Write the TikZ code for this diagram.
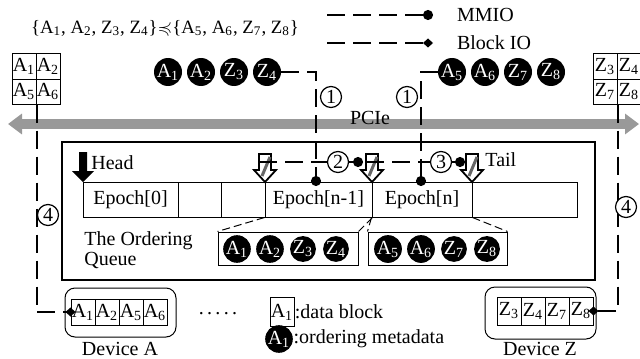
\documentclass[tikz,border=0pt]{standalone}
\usepackage{amssymb}
\usepackage{fontspec}
\setmainfont{Liberation Serif}
\usetikzlibrary{arrows.meta}

\newcommand{\sbx}[2]{#1\textsubscript{#2}}

\tikzset{
  dline/.style={line width=1pt, dash pattern=on 9pt off 4pt},
  mmio/.style={dline, -{Circle[length=5pt]}},
  blockio/.style={dline, -{Diamond[length=5pt,width=4.5pt]}},
  meta/.style={circle, fill=black, text=white, inner sep=0pt, minimum size=14pt},
  qmeta/.style={meta, minimum size=12.5pt},
  blk/.style={draw, line width=0.5pt, inner sep=0pt, minimum width=12pt, minimum height=12.5pt},
  num/.style={draw, circle, fill=white, inner sep=0pt, minimum size=10.5pt, line width=0.6pt},
  epoch/.style={draw, line width=0.5pt, minimum height=17.5pt, inner sep=0pt},
  qbox/.style={draw, line width=0.5pt, minimum height=16.5pt, inner sep=0pt},
  device/.style={draw, rounded corners=5pt, line width=0.5pt, minimum width=55.5pt, inner sep=0pt},
  zoomline/.style={line width=0.5pt, dash pattern=on 4pt off 2pt},
  pcie/.style={line width=5pt, black!40, {Triangle[width=10pt,length=7pt]}-{Triangle[width=10pt,length=7pt]}},
  ptr/.pic={
    \draw[fill=white, line width=0.9pt] (-6,-28) -- (6,-28) -- (6,-12) -- (11,-12) -- (0,0) -- (-11,-12) -- (-6,-12) -- cycle;
    \draw[line width=1.5pt, black!60] (5,-25) -- (-3,-6);
  },
  headptr/.pic={
    \fill (-4,-30) -- (4,-30) -- (4,-11) -- (11,-11) -- (0,0) -- (-11,-11) -- (-4,-11) -- cycle;
  },
}

\begin{document}
\begin{tikzpicture}[x=0.5pt,y=-0.5pt]
    \useasboundingbox (0,0) rectangle (640,358);

    % LEGEND AND ORDER
    \node[font=\fontsize{9.4}{11}\selectfont] (order) at (165,28) {\{\sbx{A}{1}, \sbx{A}{2}, \sbx{Z}{3}, \sbx{Z}{4}\}$\mathord{\preccurlyeq}$\{\sbx{A}{5}, \sbx{A}{6}, \sbx{Z}{7}, \sbx{Z}{8}\}};
    \coordinate (lm1) at (327,15);
    \coordinate (lm2) at (433,15);
    \coordinate (lb1) at (327,43);
    \coordinate (lb2) at (433,43);
    \draw[mmio] (lm1) -- (lm2);
    \draw[blockio] (lb1) -- (lb2);
    \node[anchor=west] (mmiotxt) at (450,15) {MMIO};
    \node[anchor=west] (biotxt) at (450,43) {Block IO};

    % PCIE BUS
    \draw[pcie] (8,124) -- (639,124);
    \node (pcietxt) at (370,118) {PCIe};

    % HOST SIDE BUFFERS
    \node[blk] (gA1) at (24,66.5) {\sbx{A}{1}};
    \node[blk] (gA2) at (48,66.5) {\sbx{A}{2}};
    \node[blk] (gA5) at (24,91.5) {\sbx{A}{5}};
    \node[blk] (gA6) at (48,91.5) {\sbx{A}{6}};
    \node[blk] (gZ3) at (605,66.5) {\sbx{Z}{3}};
    \node[blk] (gZ4) at (629,66.5) {\sbx{Z}{4}};
    \node[blk] (gZ7) at (605,91.5) {\sbx{Z}{7}};
    \node[blk] (gZ8) at (629,91.5) {\sbx{Z}{8}};

    \foreach \t/\s/\x in {A/1/168, A/2/201, Z/3/234, Z/4/267, A/5/452, A/6/485, Z/7/518, Z/8/551}
        \node[meta] (top\t\s) at (\x,72) {\sbx{\t}{\s}};

    % THE ORDERING QUEUE
    \node[draw, line width=1pt, minimum width=266.5pt, minimum height=69pt] (queue) at (328.5,211) {};
    \foreach \a/\b/\t [count=\i] in {83/178/{Epoch[0]}, 178/221/{}, 221/265/{}, 265/372/{Epoch[n-1]}, 372/472/{Epoch[n]}, 472/577/{}}
        \node[epoch, minimum width={(\b-\a)*0.5pt}] (e\i) at ({(\a+\b)/2},199.5) {\t};

    \pic at (83,182) {headptr};
    \node[anchor=west, inner sep=0pt] (headtxt) at (91,163) {Head};
    \pic at (265,182) {ptr};
    \pic at (372,182) {ptr};
    \pic at (472,182) {ptr};
    \node[anchor=west, inner sep=0pt] (tailtxt) at (485,160) {Tail};

    \coordinate (m1) at (259,162);
    \coordinate (m2) at (363,162);
    \coordinate (m3) at (366,162);
    \coordinate (m4) at (465,162);
    \draw[mmio] (m1) -- (m2);
    \draw[mmio] (m3) -- (m4);
    \node[num] (n2) at (338,162) {2};
    \node[num] (n3) at (441,162) {3};

    \node[anchor=west, align=left, inner sep=0pt] (qtxt) at (84,250) {The Ordering\\[-2pt]Queue};
    \node[qbox, minimum width=70pt] (qbox1) at (288,248.5) {};
    \node[qbox, minimum width=69.5pt] (qbox2) at (437.5,248.5) {};
    \foreach \t/\s/\x in {A/1/237, A/2/270, Z/3/303, Z/4/336}
        \node[qmeta] (q\t\s) at (\x,249) {\sbx{\t}{\s}};
    \foreach \t/\s/\x in {A/5/388, A/6/421, Z/7/454, Z/8/487}
        \node[qmeta] (q\t\s) at (\x,249) {\sbx{\t}{\s}};
    \draw[zoomline] (e4.south west) -- (qbox1.north west);
    \draw[zoomline] (e4.south east) -- (qbox1.north east);
    \draw[zoomline] (e5.south west) -- (qbox2.north west);
    \draw[zoomline] (e5.south east) -- (qbox2.north east);

    % MMIO FROM HOST
    \coordinate (d1) at (316,186);
    \coordinate (d2) at (421,186);
    \draw[mmio] (topZ4.east) -| (d1);
    \draw[mmio] (topA5.west) -| (d2);
    \node[num] (n1a) at (331,97) {1};
    \node[num] (n1b) at (407,97) {1};

    % DEVICES
    \node[device, minimum height=24.5pt] (devA) at (120.5,312.5) {};
    \foreach \t/\s/\x in {A/1/83, A/2/107, A/5/131, A/6/155}
        \node[blk, minimum height=13pt] (d\t\s) at (\x,312) {\sbx{\t}{\s}};
    \node (devAtxt) at (120,349) {Device A};

    \node[device, minimum height=26pt] (devZ) at (540.5,313) {};
    \foreach \t/\s/\x in {Z/3/509, Z/4/533, Z/7/557, Z/8/581}
        \node[blk, minimum height=14pt] (d\t\s) at (\x,311) {\sbx{\t}{\s}};
    \node (devZtxt) at (540,349) {Device Z};

    \node (dots) at (218,314) {.\,.\,.\,.\,.};

    % BLOCK IO
    \draw[blockio, shorten >=-2.5pt] (gA5.south east) |- (dA1.west);
    \draw[blockio, shorten >=-2.5pt] (gZ7.south east) |- (dZ8.east);
    \node[num] (n4a) at (48,215) {4};
    \node[num] (n4b) at (626,207) {4};

    % KEY
    \node[blk, minimum height=14.5pt] (keyblk) at (282,312) {\sbx{A}{1}};
    \node[anchor=west, inner sep=0pt] (keyblktxt) at (keyblk.east) {:data block};
    \node[meta, minimum size=11.5pt] (keymeta) at (279,339) {\sbx{A}{1}};
    \node[anchor=west, inner sep=0pt] (keymetatxt) at (keymeta.east) {:ordering metadata};
\end{tikzpicture}
\end{document}
